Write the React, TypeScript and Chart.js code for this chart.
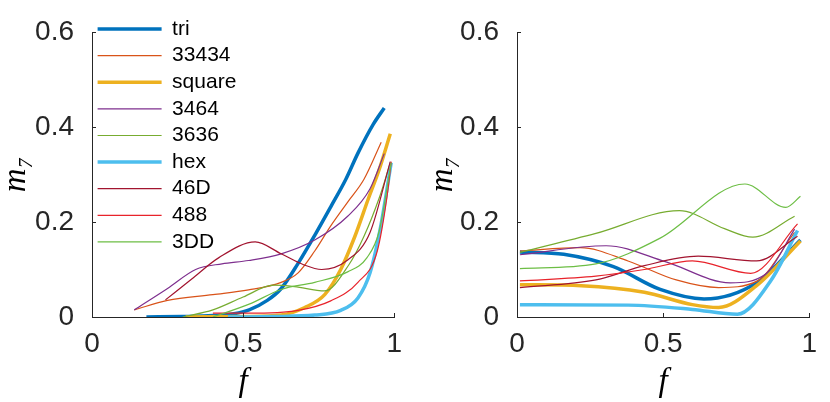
import { Chart, registerables } from "chart.js";
import { useEffect, useRef } from "react";

Chart.register(...registerables);

// legend names, in plot order
const seriesNames = ["tri", "33434", "square", "3464", "3636", "hex", "46D", "488", "3DD"];
const seriesColors = ["#0072BD", "#D95319", "#EDB120", "#7E2F8E", "#77AC30", "#4DBEEE", "#A2142F", "#E8232B", "#6DBE45"];
const seriesWidths = [3.5, 1.2, 3.5, 1.2, 1.2, 3.5, 1.2, 1.2, 1.2];

const xTickValues = [0, 0.5, 1];
const yTickValues = [0, 0.2, 0.4, 0.6];

// left panel, [f, m7]
const leftTri = [[0.18, 0], [0.3, 0.001], [0.4, 0.003], [0.47, 0.007], [0.52, 0.015], [0.58, 0.035], [0.626, 0.06], [0.682, 0.113], [0.737, 0.172], [0.79, 0.232], [0.84, 0.29], [0.88, 0.345], [0.93, 0.405], [0.967, 0.44]];
const left33434 = [[0.14, 0.015], [0.25, 0.035], [0.4, 0.047], [0.518, 0.057], [0.626, 0.073], [0.682, 0.093], [0.737, 0.139], [0.79, 0.192], [0.846, 0.242], [0.9, 0.29], [0.957, 0.368]];
const leftSquare = [[0.31, 0], [0.5, 0.001], [0.626, 0.004], [0.704, 0.02], [0.77, 0.047], [0.823, 0.1], [0.87, 0.17], [0.915, 0.25], [0.95, 0.31], [0.987, 0.386]];
const left3464 = [[0.14, 0.015], [0.25, 0.06], [0.343, 0.1], [0.43, 0.112], [0.518, 0.119], [0.626, 0.133], [0.737, 0.162], [0.846, 0.212], [0.92, 0.27], [0.967, 0.344]];
const left3636 = [[0.3, 0], [0.4, 0.015], [0.5, 0.042], [0.6, 0.067], [0.67, 0.064], [0.77, 0.055], [0.85, 0.11], [0.9, 0.17], [0.95, 0.25], [0.985, 0.32]];
const leftHex = [[0.45, 0], [0.6, 0.001], [0.737, 0.004], [0.823, 0.014], [0.88, 0.04], [0.92, 0.093], [0.955, 0.19], [0.99, 0.325]];
const left46D = [[0.243, 0.036], [0.33, 0.08], [0.42, 0.125], [0.54, 0.158], [0.626, 0.133], [0.7, 0.11], [0.76, 0.1], [0.846, 0.12], [0.92, 0.178], [0.987, 0.327]];
const left488 = [[0.4, 0.008], [0.518, 0.008], [0.682, 0.014], [0.79, 0.034], [0.88, 0.073], [0.944, 0.139], [0.977, 0.257], [0.99, 0.327]];
const left3DD = [[0.4, 0], [0.52, 0.027], [0.626, 0.058], [0.737, 0.073], [0.846, 0.095], [0.91, 0.125], [0.95, 0.18], [0.99, 0.325]];

// right panel, [f, m7]
const rightTri = [[0.01, 0.137], [0.16, 0.132], [0.33, 0.106], [0.49, 0.058], [0.64, 0.038], [0.82, 0.072], [0.97, 0.162]];
const right33434 = [[0.01, 0.139], [0.217, 0.146], [0.38, 0.118], [0.545, 0.078], [0.69, 0.062], [0.82, 0.075], [0.95, 0.178]];
const rightSquare = [[0.01, 0.068], [0.22, 0.066], [0.436, 0.052], [0.6, 0.026], [0.69, 0.02], [0.82, 0.066], [0.97, 0.16]];
const right3464 = [[0.01, 0.131], [0.305, 0.15], [0.51, 0.116], [0.73, 0.072], [0.85, 0.09], [0.95, 0.185]];
const right3636 = [[0.01, 0.136], [0.27, 0.176], [0.556, 0.224], [0.71, 0.186], [0.807, 0.168], [0.95, 0.212]];
const rightHex = [[0.01, 0.026], [0.38, 0.025], [0.6, 0.016], [0.754, 0.006], [0.87, 0.078], [0.96, 0.182]];
const right46D = [[0.01, 0.062], [0.27, 0.078], [0.436, 0.108], [0.62, 0.128], [0.82, 0.118], [0.96, 0.17]];
const right488 = [[0.01, 0.076], [0.27, 0.086], [0.436, 0.1], [0.6, 0.118], [0.8, 0.092], [0.96, 0.196]];
const right3DD = [[0.01, 0.102], [0.27, 0.112], [0.49, 0.166], [0.78, 0.28], [0.92, 0.231], [0.97, 0.254]];

const leftSeries = [leftTri, left33434, leftSquare, left3464, left3636, leftHex, left46D, left488, left3DD];
const rightSeries = [rightTri, right33434, rightSquare, right3464, right3636, rightHex, right46D, right488, right3DD];

const axisColor = "#262626";
const tickFont = { family: "'Liberation Sans', Arial, sans-serif", size: 28, lineHeight: 1 };
const titleFont = { family: "'Liberation Serif', 'DejaVu Serif', serif", size: 33, style: "italic" as const, lineHeight: 1 };

// short tick marks pointing into the plot, like matlab
const inwardTicks = {
  id: "inwardTicks",
  afterDatasetsDraw(chart: any) {
    const { ctx, chartArea, scales } = chart;
    ctx.save();
    ctx.strokeStyle = axisColor;
    ctx.lineWidth = 1;
    ctx.beginPath();
    scales.x.ticks.forEach((t: any) => {
      const px = Math.round(scales.x.getPixelForValue(t.value)) + 0.5;
      ctx.moveTo(px, chartArea.bottom);
      ctx.lineTo(px, chartArea.bottom - 4);
    });
    scales.y.ticks.forEach((t: any) => {
      const py = Math.round(scales.y.getPixelForValue(t.value)) + 0.5;
      ctx.moveTo(chartArea.left, py);
      ctx.lineTo(chartArea.left + 4, py);
    });
    ctx.stroke();
    ctx.restore();
  },
};

function makeConfig(series: number[][][], withLegend: boolean, yWidth: number, padLeft: number, padRight: number): any {
  return {
    type: "line",
    data: {
      datasets: series.map((pts, i) => ({
        label: seriesNames[i],
        data: pts.map(([x, y]) => ({ x, y })),
        borderColor: seriesColors[i],
        backgroundColor: seriesColors[i],
        borderWidth: seriesWidths[i],
        pointRadius: 0,
        cubicInterpolationMode: "monotone",
        order: series.length - i,
      })),
    },
    options: {
      responsive: true,
      maintainAspectRatio: false,
      animation: false,
      layout: { padding: { top: 14, left: padLeft, right: padRight, bottom: 0 } },
      scales: {
        x: {
          type: "linear",
          min: 0,
          max: 1,
          afterBuildTicks: (s: any) => { s.ticks = xTickValues.map((v) => ({ value: v })); },
          afterFit: (s: any) => { s.height = 85; },
          grid: { display: false, drawTicks: false },
          border: { color: axisColor, width: 1 },
          ticks: { font: tickFont, color: axisColor, padding: 13, maxRotation: 0, callback: (v: number) => String(v) },
          title: { display: true, text: "f", font: titleFont, color: "#000", padding: { top: 0, bottom: 3 } },
        },
        y: {
          type: "linear",
          min: 0,
          max: 0.6,
          afterBuildTicks: (s: any) => { s.ticks = yTickValues.map((v) => ({ value: v })); },
          afterFit: (s: any) => { s.width = yWidth; },
          grid: { display: false, drawTicks: false },
          border: { color: axisColor, width: 1 },
          ticks: { font: tickFont, color: axisColor, padding: 18, callback: (v: number) => String(v) },
          title: { display: true, text: "m₇", font: titleFont, color: "#000", padding: 0 },
        },
      },
      plugins: {
        legend: {
          display: withLegend,
          position: "chartArea",
          align: "start",
          // empty title only pushes the rows down to the plot top
          title: { display: true, text: "", font: { size: 1, lineHeight: 1 }, padding: { top: 12, bottom: 0 } },
          labels: {
            usePointStyle: true,
            pointStyle: "line",
            pointStyleWidth: 64,
            padding: 5.6,
            color: "#000",
            font: { family: "'Liberation Sans', Arial, sans-serif", size: 21 },
            sort: (a: any, b: any) => a.datasetIndex - b.datasetIndex,
          },
        },
        tooltip: { enabled: false },
      },
    },
    plugins: [inwardTicks],
  };
}

function Panel({ series, withLegend, left, yWidth, padLeft, padRight }: any) {
  const chartRef = useRef<HTMLCanvasElement | null>(null);

  useEffect(() => {
    if (!chartRef.current) return;
    const chartInstance = new Chart(chartRef.current, makeConfig(series, withLegend, yWidth, padLeft, padRight));
    return () => {
      chartInstance.destroy();
    };
  }, []);

  return (
    <div style={{ position: "absolute", left, top: 0, width: 415, height: 402 }}>
      <canvas ref={chartRef} />
    </div>
  );
}

export default function App() {
  return (
    <div style={{ position: "fixed", left: 0, top: 0, width: 830, height: 402, background: "#fff" }}>
      <Panel series={leftSeries} withLegend={true} left={0} yWidth={92} padLeft={0} padRight={18} />
      <Panel series={rightSeries} withLegend={false} left={415} yWidth={90} padLeft={12} padRight={8} />
    </div>
  );
}
